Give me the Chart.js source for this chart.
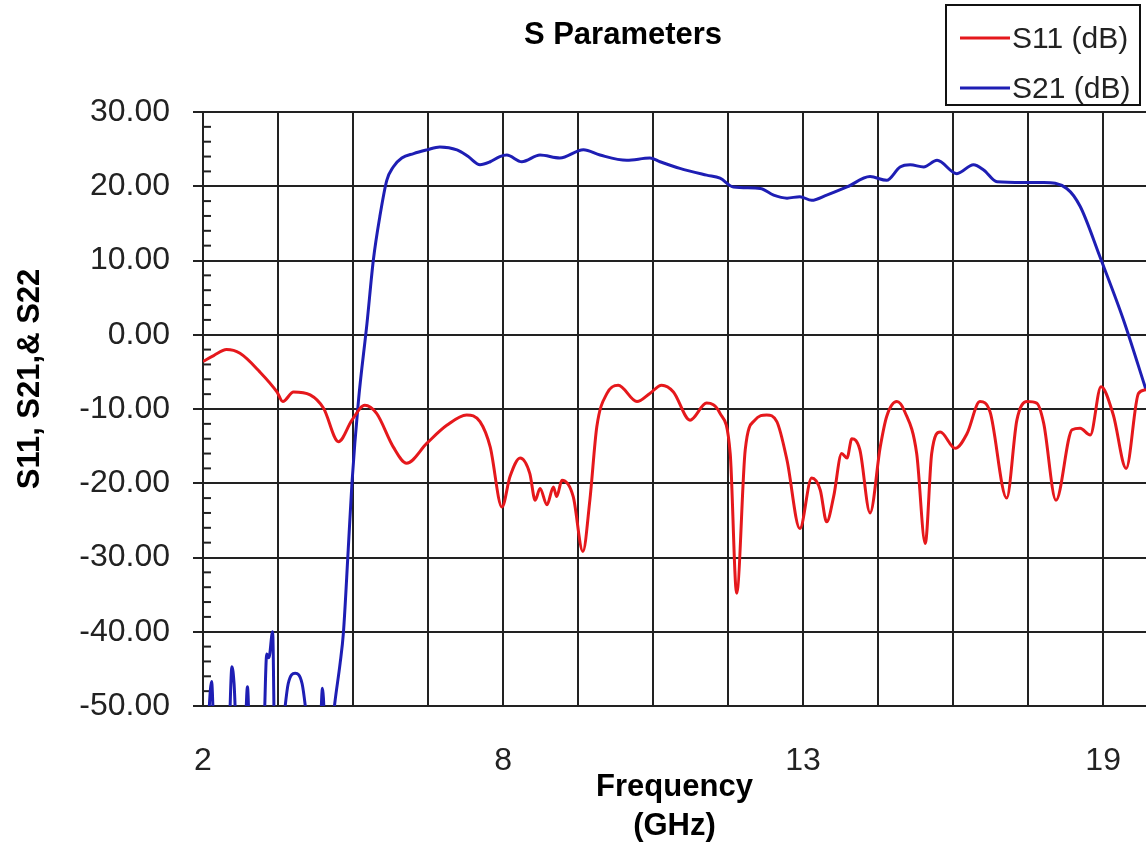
<!DOCTYPE html>
<html>
<head>
<meta charset="utf-8">
<script src="https://cdn.jsdelivr.net/npm/chart.js@4"></script>
<style>
  body { margin: 0; background: #fff; }
  canvas { display: block; }
</style>
</head>
<body>
<canvas id="myChart" width="1146" height="846"></canvas>
<script>
// frequency in GHz, values in dB
const s11Freq = [2.0, 2.2, 2.44, 2.69, 3.06, 3.38, 3.49, 3.69, 4.0, 4.25, 4.53, 4.78, 5.02, 5.24, 5.55, 5.8,
  6.18, 6.55, 6.92, 7.17, 7.36, 7.58, 7.73, 7.92, 8.1, 8.2, 8.29, 8.42, 8.54, 8.6, 8.7, 8.91, 9.09, 9.22,
  9.35, 9.54, 9.75, 10.1, 10.34, 10.56, 10.78, 11.09, 11.4, 11.65, 11.84, 11.96, 12.12, 12.3, 12.52, 12.71,
  12.9, 13.14, 13.36, 13.52, 13.64, 13.77, 13.92, 14.02, 14.11, 14.26, 14.45, 14.64, 14.76, 14.95, 15.1,
  15.32, 15.48, 15.6, 15.76, 16.04, 16.26, 16.5, 16.69, 17.0, 17.19, 17.38, 17.56, 17.69, 17.92, 18.22,
  18.37, 18.56, 18.76, 18.99, 19.23, 19.46, 19.6];
const s11Db = [-3.6, -2.8, -2.0, -2.5, -5.0, -7.7, -9.0, -7.7, -8.1, -9.9, -14.4, -11.5, -9.5, -10.6, -15.1, -17.3,
  -14.6, -12.2, -10.8, -11.7, -15.1, -23.2, -19.1, -16.6, -18.7, -22.3, -20.7, -22.9, -20.5, -21.8, -19.6, -21.8, -29.2, -22.3,
  -12.4, -7.9, -6.8, -9.0, -7.9, -6.8, -7.7, -11.5, -9.2, -10.6, -16.0, -34.8, -15.5, -11.5, -10.8, -11.7,
  -16.9, -26.1, -19.3, -20.9, -25.2, -21.8, -16.0, -16.6, -14.0, -15.5, -24.0, -15.1, -11.0, -9.0, -10.4,
  -16.0, -28.1, -16.0, -13.1, -15.3, -13.3, -9.0, -10.4, -22.0, -11.5, -9.0, -9.2, -11.9, -22.3, -12.8,
  -12.6, -13.5, -7.0, -10.8, -18.0, -7.9, -7.4];

const s21Freq = [2.0, 2.08, 2.16, 2.22, 2.47, 2.54, 2.58, 2.64, 2.77, 2.83, 2.88, 3.12, 3.19, 3.23, 3.3, 3.34,
  3.48, 3.59, 3.72, 3.85, 3.96, 4.02, 4.17, 4.23, 4.3, 4.41, 4.46, 4.56, 4.62, 4.71, 4.78, 4.9, 5.06, 5.18,
  5.3, 5.43, 5.55, 5.71, 5.93, 6.18, 6.42, 6.74, 6.95, 7.17, 7.36, 7.54, 7.67, 7.95, 8.29, 8.66, 9.1, 9.41,
  9.91, 10.34, 10.53, 10.9, 11.4, 11.65, 11.9, 12.4, 12.65, 12.9, 13.14, 13.36, 13.64, 14.02, 14.45, 14.76,
  15.01, 15.2, 15.45, 15.7, 16.07, 16.38, 16.57, 16.82, 17.31, 17.69, 18.12, 18.37, 18.74, 19.18, 19.6];
const s21Db = [-56, -54, -46.7, -56, -56, -44.7, -47, -56, -56, -47.4, -56, -56, -43, -43.5, -40, -56,
  -53, -47, -45.6, -47, -53, -56, -56, -47.6, -56, -53, -49.6, -44.2, -40.2, -29, -20, -9, 1.5, 10.1,
  15.9, 20.8, 22.6, 23.8, 24.4, 24.9, 25.3, 24.9, 24.0, 22.9, 23.3, 24.0, 24.2, 23.3, 24.2, 23.8, 24.9, 24.2,
  23.5, 23.8, 23.3, 22.4, 21.5, 21.1, 19.9, 19.7, 18.8, 18.4, 18.6, 18.1, 18.8, 19.9, 21.3, 20.8,
  22.6, 22.9, 22.6, 23.5, 21.7, 22.9, 22.2, 20.6, 20.5, 20.5, 19.7, 17.3, 10.5, 2.0, -7.4];

// grid every 1.4 GHz, only some of them carry a label
const xGridValues = [2, 3.4, 4.8, 6.2, 7.6, 9.0, 10.4, 11.8, 13.2, 14.6, 16.0, 17.4, 18.8];
const xLabelValues = [2, 7.6, 13.2, 18.8];
const xTickLabels = ['2', '8', '13', '19'];

const FONT = "'Liberation Sans', Arial, sans-serif";
const INK = '#222';

const ctx = document.getElementById('myChart').getContext('2d');

function toPoints(xs, ys) {
  return xs.map((x, i) => ({ x: x, y: ys[i] }));
}

// title, y axis title, boxed legend and minor ticks
const extras = {
  id: 'extras',
  beforeDatasetsDraw(chart) {
    const c = chart.ctx;
    const y = chart.scales.y;
    const left = chart.chartArea.left;
    c.save();
    c.strokeStyle = INK;
    c.lineWidth = 2;
    for (let v = -50; v <= 30; v += 2) {
      if (v % 10 === 0) continue;
      const py = y.getPixelForValue(v);
      c.beginPath();
      c.moveTo(left, py);
      c.lineTo(left + 8, py);
      c.stroke();
    }
    c.restore();
  },
  afterDraw(chart) {
    const c = chart.ctx;
    c.save();
    c.fillStyle = '#000';
    c.font = 'bold 31px ' + FONT;
    c.textAlign = 'center';
    c.textBaseline = 'middle';
    c.fillText('S Parameters', 623, 35);

    c.translate(30, 379);
    c.rotate(-Math.PI / 2);
    c.fillText('S11, S21,& S22', 0, 0);
    c.restore();

    // legend box
    c.save();
    c.fillStyle = '#fff';
    c.fillRect(946, 5, 194, 100);
    c.strokeStyle = '#111';
    c.lineWidth = 2;
    c.strokeRect(946, 5, 194, 100);
    c.font = '30px ' + FONT;
    c.textBaseline = 'middle';
    c.textAlign = 'left';
    chart.data.datasets.forEach((ds, i) => {
      const ly = 38 + i * 50;
      c.strokeStyle = ds.borderColor;
      c.lineWidth = 3;
      c.beginPath();
      c.moveTo(960, ly);
      c.lineTo(1010, ly);
      c.stroke();
      c.fillStyle = INK;
      c.fillText(ds.label, 1012, ly + 2);
    });
    c.restore();
  }
};

const myChart = new Chart(ctx, {
  type: 'line',
  data: {
    datasets: [
      {
        label: 'S11 (dB)',
        data: toPoints(s11Freq, s11Db),
        borderColor: '#e5181c',
        borderWidth: 3,
        pointRadius: 0,
        cubicInterpolationMode: 'monotone',
        clip: 0
      },
      {
        label: 'S21 (dB)',
        data: toPoints(s21Freq, s21Db),
        borderColor: '#1e1eb4',
        borderWidth: 3,
        pointRadius: 0,
        cubicInterpolationMode: 'monotone',
        clip: 0
      }
    ]
  },
  options: {
    responsive: false,
    animation: false,
    layout: { padding: { top: 112, left: 0, right: 0, bottom: 0 } },
    plugins: {
      legend: { display: false },
      title: { display: false },
      tooltip: { enabled: false }
    },
    scales: {
      x: {
        type: 'linear',
        min: 2,
        max: 19.6,
        afterBuildTicks: s => { s.ticks = xGridValues.map(v => ({ value: v })); },
        afterFit: s => { s.height = 140; },
        ticks: {
          autoSkip: false,
          maxRotation: 0,
          padding: 23,
          color: INK,
          font: { family: FONT, size: 32, lineHeight: 2 },
          callback: v => {
            const i = xLabelValues.findIndex(l => Math.abs(l - v) < 0.01);
            return i < 0 ? '' : xTickLabels[i];
          }
        },
        grid: { color: INK, lineWidth: 2, drawTicks: false },
        border: { color: INK, width: 2 },
        title: {
          display: true,
          text: ['Frequency', '(GHz)'],
          color: '#000',
          padding: 0,
          font: { family: FONT, size: 31, weight: 'bold', lineHeight: 1.25 }
        }
      },
      y: {
        min: -50,
        max: 30,
        afterFit: s => { s.width = 203; },
        ticks: {
          stepSize: 10,
          padding: 23,
          color: INK,
          font: { family: FONT, size: 32 },
          callback: v => v.toFixed(2)
        },
        grid: { color: INK, lineWidth: 2, tickLength: 10, tickColor: INK, tickWidth: 2 },
        border: { color: INK, width: 2 }
      }
    }
  },
  plugins: [extras]
});
</script>
</body>
</html>
